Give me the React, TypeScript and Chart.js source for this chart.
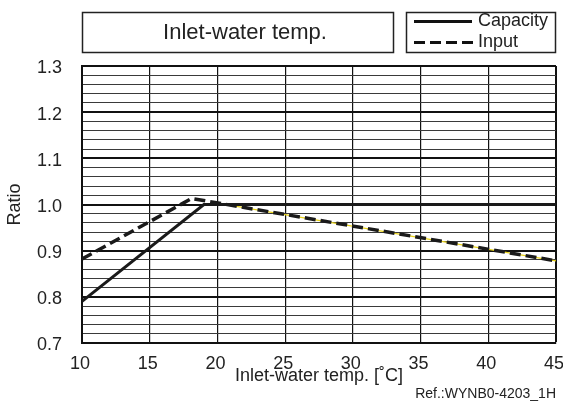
import { useEffect, useRef } from 'react';
import Chart from 'chart.js/auto';

const FONT = "'Liberation Sans', Arial, Helvetica, sans-serif";

// values
const capacityTemps = [10, 19, 45];
const capacityRatios = [0.79, 1.0, 1.0];
const inputTemps = [10, 18.1, 45];
const inputRatios = [0.882, 1.013, 0.878];
// thin yellow trace sitting under the dashed input line
const traceTemps = [20, 45];
const traceRatios = [1.003, 0.878];

const xMin = 10;
const xMax = 45;
const xStep = 5;
const yMin = 0.7;
const yMax = 1.3;
const yStep = 0.02;

const chartTitle = 'Inlet-water temp.';
const legendLabels = ['Capacity', 'Input'];
const xTitle = 'Inlet-water temp. [˚C]';
const yTitle = 'Ratio';
const refText = 'Ref.:WYNB0-4203_1H';

function points(xs: number[], ys: number[]) {
  return xs.map((x, i) => ({ x, y: ys[i] }));
}

function isMajor(v: number) {
  return Math.abs(v * 10 - Math.round(v * 10)) < 1e-6;
}

const boxesPlugin = {
  id: 'boxes',
  afterDraw(chart: Chart) {
    const ctx = chart.ctx;
    ctx.save();
    ctx.strokeStyle = '#222';
    ctx.lineWidth = 1.5;
    ctx.strokeRect(82.5, 12.5, 311, 40);
    ctx.strokeRect(406.5, 12.5, 149, 40);

    ctx.fillStyle = '#222';
    ctx.font = `22px ${FONT}`;
    ctx.textAlign = 'center';
    ctx.textBaseline = 'middle';
    ctx.fillText(chartTitle, 245, 33);

    // legend
    ctx.strokeStyle = '#111';
    ctx.lineWidth = 3;
    ctx.beginPath();
    ctx.moveTo(414, 21.5);
    ctx.lineTo(472, 21.5);
    ctx.stroke();
    ctx.setLineDash([11, 5]);
    ctx.beginPath();
    ctx.moveTo(414, 42.5);
    ctx.lineTo(474, 42.5);
    ctx.stroke();
    ctx.setLineDash([]);

    ctx.font = `18px ${FONT}`;
    ctx.textAlign = 'left';
    ctx.fillText(legendLabels[0], 478, 21);
    ctx.fillText(legendLabels[1], 478, 42);

    ctx.font = `14px ${FONT}`;
    ctx.textAlign = 'right';
    ctx.fillText(refText, 556, 394);
    ctx.restore();
  },
};

export default function App() {
  const canvasRef = useRef<HTMLCanvasElement>(null);
  const chartRef = useRef<Chart | null>(null);

  useEffect(() => {
    document.body.style.margin = '0';
    if (!canvasRef.current) return;
    if (chartRef.current) chartRef.current.destroy();

    chartRef.current = new Chart(canvasRef.current, {
      type: 'line',
      data: {
        datasets: [
          {
            label: legendLabels[0],
            data: points(capacityTemps, capacityRatios),
            borderColor: '#1a1a1a',
            borderWidth: 3,
            pointRadius: 0,
            tension: 0,
            order: 1,
          },
          {
            label: legendLabels[1],
            data: points(inputTemps, inputRatios),
            borderColor: '#1a1a1a',
            borderWidth: 3.5,
            borderDash: [11, 5],
            pointRadius: 0,
            tension: 0,
            order: 0,
          },
          {
            label: 'trace',
            data: points(traceTemps, traceRatios),
            borderColor: '#e8d21a',
            borderWidth: 1.2,
            pointRadius: 0,
            tension: 0,
            order: 2,
          },
        ],
      },
      options: {
        animation: false,
        responsive: true,
        maintainAspectRatio: false,
        layout: { padding: { left: 0, top: 66, right: 7, bottom: 0 } },
        plugins: {
          legend: { display: false },
          tooltip: { enabled: false },
        },
        scales: {
          x: {
            type: 'linear',
            min: xMin,
            max: xMax,
            afterFit: (scale: any) => {
              scale.height = 61;
              scale.paddingLeft = 0;
              scale.paddingRight = 0;
            },
            ticks: {
              stepSize: xStep,
              padding: 10,
              labelOffset: -2,
              color: '#222',
              font: { family: FONT, size: 18 },
            },
            grid: {
              color: '#111',
              lineWidth: (c) => (c.tick && c.tick.value === xMax ? 2 : 1.2),
              drawTicks: false,
            },
            border: { display: true, color: '#111', width: 2 },
            title: {
              display: true,
              text: xTitle,
              color: '#222',
              font: { family: FONT, size: 18 },
              padding: { top: 0, bottom: 17.5 },
            },
          },
          y: {
            type: 'linear',
            min: yMin,
            max: yMax,
            afterFit: (scale: any) => {
              scale.width = 82;
              scale.paddingTop = 0;
              scale.paddingBottom = 0;
            },
            ticks: {
              stepSize: yStep,
              padding: 20,
              labelOffset: 2.5,
              autoSkip: false,
              color: '#222',
              font: { family: FONT, size: 18 },
              callback: (v) => (isMajor(Number(v)) ? Number(v).toFixed(1) : ''),
            },
            grid: {
              color: (c) => (c.tick && isMajor(c.tick.value) ? '#111' : '#3a3a3a'),
              lineWidth: (c) => (c.tick && isMajor(c.tick.value) ? 2 : 1),
              drawTicks: false,
            },
            border: { display: true, color: '#111', width: 2 },
            title: {
              display: true,
              text: yTitle,
              color: '#222',
              font: { family: FONT, size: 18 },
              padding: { top: 4.7, bottom: 0 },
            },
          },
        },
      },
      plugins: [boxesPlugin],
    });

    return () => {
      chartRef.current?.destroy();
      chartRef.current = null;
    };
  }, []);

  return (
    <div style={{ position: 'relative', width: 563, height: 404 }}>
      <canvas ref={canvasRef} />
    </div>
  );
}
